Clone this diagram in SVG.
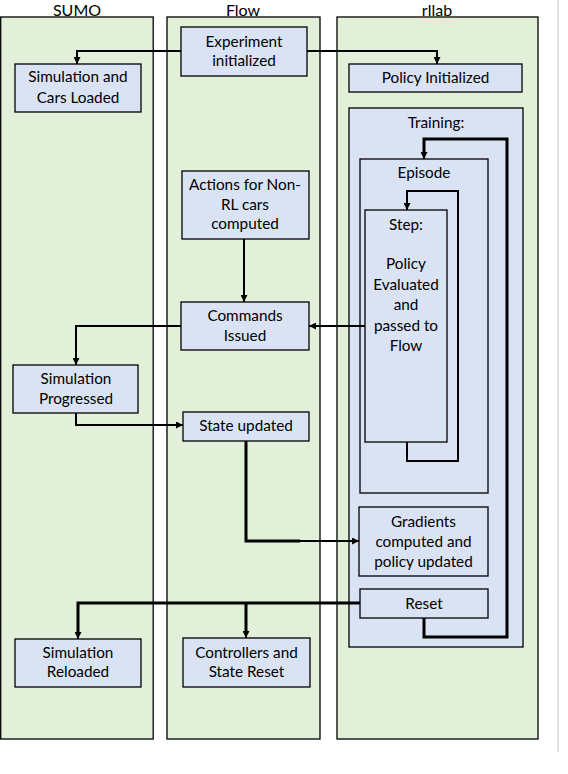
<svg xmlns="http://www.w3.org/2000/svg" width="568" height="774" viewBox="0 0 568 774">
<defs>
<style>
.panel{fill:#e2efd9;stroke:#000;stroke-width:1.3}
.box{fill:#dae3f3;stroke:#000;stroke-width:1.3}
.hdr{font-family:Lato,"Liberation Sans",sans-serif;font-size:16px;fill:#000;text-anchor:middle}
.lbl{font-family:Lato,"Liberation Sans",sans-serif;font-size:15.3px;fill:#000;text-anchor:middle}
.c{fill:none;stroke:#000;stroke-width:2}
.ct{fill:none;stroke:#000;stroke-width:3}
</style>
<marker id="ah" viewBox="0 0 10 10" refX="10" refY="5" markerWidth="7" markerHeight="7" markerUnits="userSpaceOnUse" orient="auto">
<path d="M0,0 L10,5 L0,10 z" fill="#000"/>
</marker>
</defs>
<rect width="568" height="774" fill="#fff"/>
<line x1="558" y1="0" x2="558" y2="752" stroke="#d9d9d9" stroke-width="1.5"/>

<g id="lane-sumo">
<rect class="panel" x="0.7" y="17" width="152.5" height="722"/>
<text class="hdr" x="77" y="15.5">SUMO</text>
</g>
<g id="lane-flow">
<rect class="panel" x="167" y="17" width="153" height="722"/>
<text class="hdr" x="243" y="15.5">Flow</text>
</g>
<g id="lane-rllab">
<rect class="panel" x="337" y="17" width="201" height="722"/>
<text class="hdr" x="437" y="15.5">rllab</text>
<line x1="420" y1="17.5" x2="455" y2="17.5" stroke="#e02020" stroke-width="1.2" stroke-dasharray="1.5,1.5"/>
</g>

<g id="training">
<rect class="box" x="349" y="108" width="174" height="539"/>
<text class="lbl" x="436" y="128">Training:</text>
</g>
<g id="episode">
<rect class="box" x="360" y="159" width="128" height="334"/>
<text class="lbl" x="424" y="178">Episode</text>
</g>
<g id="step">
<rect class="box" x="365" y="210" width="82" height="232"/>
<text class="lbl" x="406" y="230">Step:</text>
<text class="lbl" x="406" y="269">Policy</text>
<text class="lbl" x="406" y="290">Evaluated</text>
<text class="lbl" x="406" y="310">and</text>
<text class="lbl" x="406" y="331">passed to</text>
<text class="lbl" x="406" y="351">Flow</text>
</g>

<g id="experiment">
<rect class="box" x="181" y="27" width="126" height="49"/>
<text class="lbl" x="244" y="47">Experiment</text>
<text class="lbl" x="244" y="66">initialized</text>
</g>
<g id="sim-cars-loaded">
<rect class="box" x="15" y="64" width="126" height="48"/>
<text class="lbl" x="78" y="82">Simulation and</text>
<text class="lbl" x="78" y="103">Cars Loaded</text>
</g>
<g id="policy-initialized">
<rect class="box" x="349" y="64" width="173" height="28"/>
<text class="lbl" x="435.5" y="83">Policy Initialized</text>
</g>
<g id="actions">
<rect class="box" x="182" y="171" width="127" height="68"/>
<text class="lbl" x="245" y="190">Actions for Non-</text>
<text class="lbl" x="245" y="210">RL cars</text>
<text class="lbl" x="245" y="229">computed</text>
</g>
<g id="commands">
<rect class="box" x="181" y="302" width="128" height="48"/>
<text class="lbl" x="245" y="321">Commands</text>
<text class="lbl" x="245" y="341">Issued</text>
</g>
<g id="sim-progressed">
<rect class="box" x="13" y="365" width="125" height="48"/>
<text class="lbl" x="76" y="384">Simulation</text>
<text class="lbl" x="76" y="404">Progressed</text>
</g>
<g id="state-updated">
<rect class="box" x="183" y="412" width="126" height="29"/>
<text class="lbl" x="246" y="431">State updated</text>
</g>
<g id="gradients">
<rect class="box" x="359" y="507" width="129" height="69"/>
<text class="lbl" x="423.5" y="527">Gradients</text>
<text class="lbl" x="423.5" y="547">computed and</text>
<text class="lbl" x="423.5" y="567">policy updated</text>
</g>
<g id="reset">
<rect class="box" x="360" y="589" width="128" height="29"/>
<text class="lbl" x="424" y="609">Reset</text>
</g>
<g id="sim-reloaded">
<rect class="box" x="15" y="639" width="126" height="48"/>
<text class="lbl" x="78" y="658">Simulation</text>
<text class="lbl" x="78" y="677">Reloaded</text>
</g>
<g id="controllers-reset">
<rect class="box" x="183" y="638" width="127" height="49"/>
<text class="lbl" x="246.5" y="658">Controllers and</text>
<text class="lbl" x="246.5" y="677">State Reset</text>
</g>

<g id="connectors">
<path class="c" d="M181,51 H77 V64" marker-end="url(#ah)"/>
<path class="c" d="M307,51 H437 V64" marker-end="url(#ah)"/>
<path class="c" d="M244,239 V302" marker-end="url(#ah)"/>
<path class="c" d="M365,326 H309" marker-end="url(#ah)"/>
<path class="c" d="M181,326 H76 V365" marker-end="url(#ah)"/>
<path class="c" d="M76,413 V425 H183" marker-end="url(#ah)"/>
<path class="ct" d="M246,441 V541 H300"/>
<path class="c" d="M298,541 H359" marker-end="url(#ah)"/>
<path class="ct" d="M360,603 H78 V633"/>
<path class="c" d="M78,630 V639" marker-end="url(#ah)"/>
<path class="ct" d="M246,603 V632"/>
<path class="c" d="M246,630 V638" marker-end="url(#ah)"/>
<path class="c" d="M407,442 V461 H458 V191 H407 V210" marker-end="url(#ah)"/>
<path class="ct" d="M424,618 V637 H507 V139 H424 V153"/>
<path class="c" d="M424,150 V159" marker-end="url(#ah)"/>
</g>
</svg>
